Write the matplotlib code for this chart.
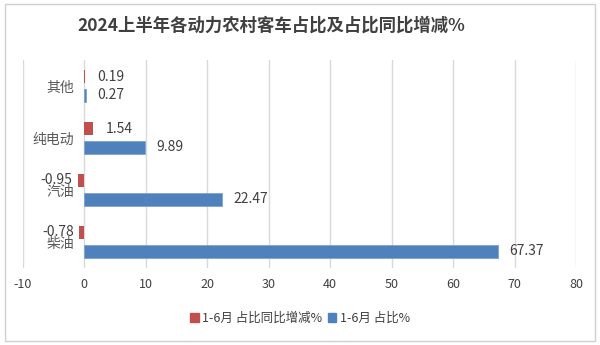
import matplotlib
matplotlib.use("Agg")
import matplotlib.pyplot as plt
import numpy as np
from matplotlib.patches import Rectangle, Patch

plt.rcParams['font.family'] = ['Noto Sans CJK SC', 'DejaVu Sans']

categories = ['其他', '纯电动', '汽油', '柴油']
change_vals = [0.19, 1.54, -0.95, -0.78]
share_vals = [0.27, 9.89, 22.47, 67.37]
change_labels = ['0.19', '1.54', '-0.95', '-0.78']
share_labels = ['0.27', '9.89', '22.47', '67.37']
series_names = ['1-6月 占比同比增减%', '1-6月 占比%']
xticks = [-10, 0, 10, 20, 30, 40, 50, 60, 70, 80]
title = '2024上半年各动力农村客车占比及占比同比增减%'

red = '#C0504D'
blue = '#4F81BD'
txt = '#404040'

fig = plt.figure(figsize=(6, 3.45), dpi=100)
fig.patches.append(Rectangle((0.008, 0.012), 0.984, 0.976, transform=fig.transFigure,
                             fill=False, edgecolor='#D0D0D0', lw=1))
ax = fig.add_axes([0.0375, 0.223, 0.9225, 0.603])

y = np.arange(len(categories))
h = 0.25
off = 0.175
ax.barh(y - off, change_vals, height=h, color=red, zorder=3)
ax.barh(y + off, share_vals, height=h, color=blue, edgecolor='#7FA3CF', lw=0.6, zorder=3)

ax.set_xlim(-10, 80)
ax.set_ylim(len(categories) - 0.5, -0.5)
ax.set_xticks(xticks)
ax.set_xticklabels([str(t) for t in xticks], fontsize=9, color=txt)
ax.set_yticks([])
ax.tick_params(axis='x', length=0, pad=7)
ax.grid(axis='x', color='#D9D9D9', lw=1, zorder=0)
for s in ax.spines.values():
    s.set_visible(False)

for i, (v, lab) in enumerate(zip(change_vals, change_labels)):
    if v >= 0:
        ax.annotate(lab, (v, i - off), xytext=(9, 0), textcoords='offset points',
                    ha='left', va='center', fontsize=10, color=txt)
    else:
        ax.annotate(lab, (v, i - off), xytext=(-4, 1), textcoords='offset points',
                    ha='right', va='center', fontsize=10, color=txt)
for i, (v, lab) in enumerate(zip(share_vals, share_labels)):
    ax.annotate(lab, (v, i + off), xytext=(8, 0), textcoords='offset points',
                ha='left', va='center', fontsize=10, color=txt)

for i, c in enumerate(categories):
    ax.text(-1.6, i + 0.04, c, ha='right', va='center', fontsize=10, color='#595959')

fig.text(0.452, 0.925, title, ha='center', va='center', fontsize=12.5,
         fontweight='bold', color=txt)

handles = [Patch(color=red), Patch(color=blue)]
fig.legend(handles, series_names, loc='center', bbox_to_anchor=(0.5, 0.078), ncol=2,
           frameon=False, fontsize=9, handlelength=0.7, handleheight=0.7,
           handletextpad=0.3, columnspacing=0.4, labelcolor=txt)

fig.savefig('out.png', dpi=100)
